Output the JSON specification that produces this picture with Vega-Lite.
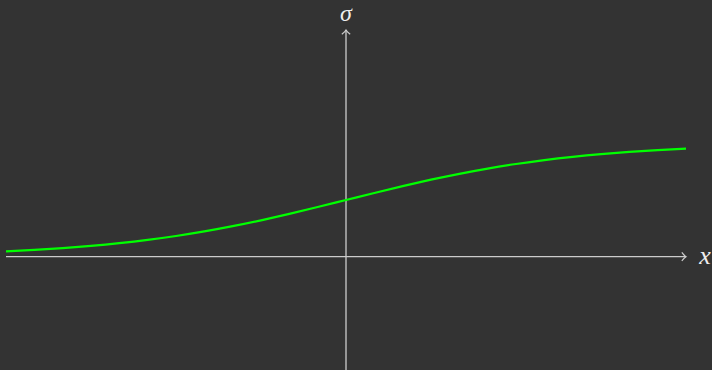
{
  "$schema": "https://vega.github.io/schema/vega-lite/v6.json",
  "width": 680,
  "height": 340,
  "autosize": {"type": "none"},
  "padding": {"left": 6, "top": 30, "right": 26, "bottom": 0},
  "background": "#333333",
  "config": {"view": {"stroke": null}},
  "datasets": {
    "sig": [
      {"x": -3.0, "y": 0.0474}, {"x": -2.75, "y": 0.0601}, {"x": -2.5, "y": 0.0759},
      {"x": -2.25, "y": 0.0953}, {"x": -2.0, "y": 0.1192}, {"x": -1.75, "y": 0.1480},
      {"x": -1.5, "y": 0.1824}, {"x": -1.25, "y": 0.2227}, {"x": -1.0, "y": 0.2689},
      {"x": -0.75, "y": 0.3208}, {"x": -0.5, "y": 0.3775}, {"x": -0.25, "y": 0.4378},
      {"x": 0.0, "y": 0.5}, {"x": 0.25, "y": 0.5622}, {"x": 0.5, "y": 0.6225},
      {"x": 0.75, "y": 0.6792}, {"x": 1.0, "y": 0.7311}, {"x": 1.25, "y": 0.7773},
      {"x": 1.5, "y": 0.8176}, {"x": 1.75, "y": 0.8520}, {"x": 2.0, "y": 0.8808},
      {"x": 2.25, "y": 0.9047}, {"x": 2.5, "y": 0.9241}, {"x": 2.75, "y": 0.9399},
      {"x": 3.0, "y": 0.9526}
    ],
    "axes": [
      {"x": -3, "y": 0, "x2": 3, "y2": 0},
      {"x": 0, "y": -1, "x2": 0, "y2": 2}
    ],
    "xend": [{"x": 3, "y": 0, "label": "x"}],
    "yend": [{"x": 0, "y": 2, "label": "σ"}]
  },
  "encoding": {
    "x": {"field": "x", "type": "quantitative", "scale": {"domain": [-3, 3], "nice": false, "zero": false}, "axis": null},
    "y": {"field": "y", "type": "quantitative", "scale": {"domain": [-1, 2], "nice": false, "zero": false}, "axis": null}
  },
  "layer": [
    {
      "data": {"name": "axes"},
      "mark": {"type": "rule", "color": "#cccccc", "strokeWidth": 1.3},
      "encoding": {
        "x2": {"field": "x2"},
        "y2": {"field": "y2"}
      }
    },
    {
      "data": {"name": "xend"},
      "mark": {"type": "point", "shape": "M -1 -1 Q -0.4 -0.2 0 0 Q -0.4 0.2 -1 1", "filled": false, "fill": null, "stroke": "#cccccc", "strokeWidth": 1.2, "size": 70, "opacity": 1, "angle": 0}
    },
    {
      "data": {"name": "yend"},
      "mark": {"type": "point", "shape": "M -1 -1 Q -0.4 -0.2 0 0 Q -0.4 0.2 -1 1", "filled": false, "fill": null, "stroke": "#cccccc", "strokeWidth": 1.2, "size": 70, "opacity": 1, "angle": -90}
    },
    {
      "data": {"name": "sig"},
      "mark": {"type": "line", "color": "#00ff00", "strokeWidth": 2.2, "interpolate": "monotone"}
    },
    {
      "data": {"name": "xend"},
      "mark": {"type": "text", "font": "Liberation Serif", "fontStyle": "italic", "fontSize": 26, "color": "#eeeeee", "align": "center", "baseline": "middle", "dx": 19, "dy": -1},
      "encoding": {"text": {"field": "label"}}
    },
    {
      "data": {"name": "yend"},
      "mark": {"type": "text", "font": "Liberation Serif", "fontStyle": "italic", "fontSize": 24, "color": "#eeeeee", "align": "center", "baseline": "middle", "dx": 0, "dy": -16},
      "encoding": {"text": {"field": "label"}}
    }
  ]
}
